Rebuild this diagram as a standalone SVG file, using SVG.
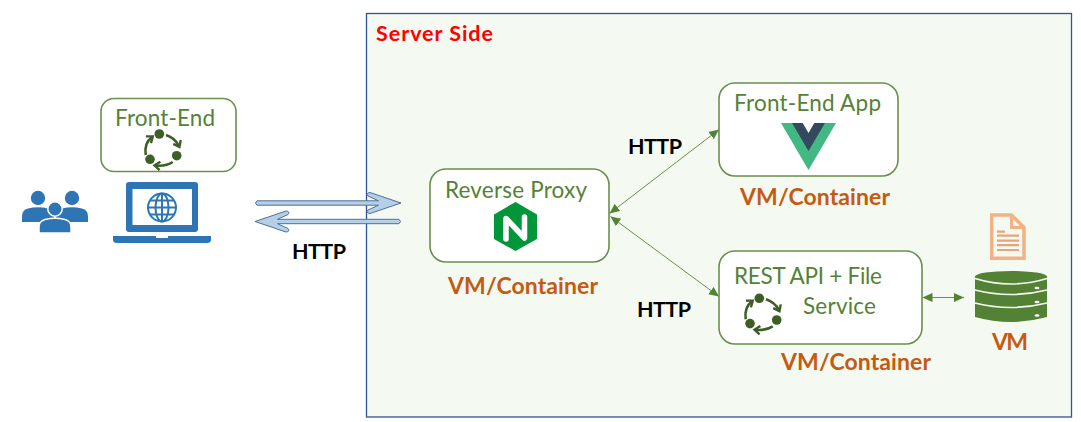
<svg xmlns="http://www.w3.org/2000/svg" xmlns:xlink="http://www.w3.org/1999/xlink" width="1081" height="422" viewBox="0 0 1081 422">
<style>
text{font-family:"Lato","Open Sans","Liberation Sans",sans-serif}
.box{fill:#fff;stroke:#6b8f4e;stroke-width:1.6}
.lbl{font-size:22.5px;fill:#548235}
.b{font-size:23px;font-weight:700;fill:#c55a11}
.h{font-size:21.5px;font-weight:700;fill:#000}
.link{stroke:#6b8f4e;stroke-width:1;fill:none;marker-start:url(#ah);marker-end:url(#ah)}
.blk{fill:#b6cfe8;stroke:#4f7199;stroke-width:1;stroke-linejoin:round}
.pb{fill:#2e75b6}
</style>
<defs>
<marker id="ah" viewBox="0 0 10 10" refX="10" refY="5" markerWidth="10" markerHeight="10" markerUnits="userSpaceOnUse" orient="auto-start-reverse"><path d="M0 0.5L10 5L0 9.5Z" fill="#548235"/></marker>
<marker id="cy" viewBox="0 0 10 10" refX="6.500" refY="5" markerWidth="10" markerHeight="10" markerUnits="userSpaceOnUse" orient="auto"><path d="M2 0.800L7.500 5L2 9.200" fill="none" stroke="#3d5f26" stroke-width="2.400"/></marker>
<g id="cycle">
<g fill="#3d5f26"><circle cx="-0.700" cy="-16" r="4.800"/><circle cx="16.700" cy="5.700" r="4.800"/><circle cx="-10" cy="9.300" r="4.800"/></g>
<g fill="none" stroke="#3d5f26" stroke-width="2.600" marker-end="url(#cy)">
<path d="M6 -15Q15 -12 19 -4"/>
<path d="M12.700 12Q6 16.500 -4.500 15.500"/>
<path d="M-14.300 5Q-16 -7 -8 -13"/>
</g></g>
<g id="person"><circle cx="0" cy="-11" r="7.200"/><path d="M-16 13V7Q-16 1 -10 -0.500Q0 -3 10 -0.500Q16 1 16 7V13Z"/></g>
</defs>
<rect width="1081" height="422" fill="#fff"/>
<g id="server-side"><rect x="366.500" y="13.500" width="705" height="403.500" fill="#f4f9f1" stroke="#2f5597" stroke-width="1.300"/>
<text x="376" y="41" font-size="21.500" font-weight="700" fill="#ff0000" textLength="117">Server Side</text></g>
<g id="connectors">
<path class="blk" d="M257 200.800H378.500L368 196Q365.500 193 370 192.500L401 203L370 213.500Q365.500 213 368 210L378.500 205.200H257Q254 203 257 200.800Z"/>
<path class="blk" d="M399 219.300H277.500L288 214.500Q290.500 211.500 286 211L255 221.500L286 232Q290.500 231.500 288 228.500L277.500 223.700H399Q402 221.500 399 219.300Z"/>
<line class="link" x1="609.500" y1="213.500" x2="719" y2="129.500"/>
<line class="link" x1="610.500" y1="216.500" x2="719" y2="296.500"/>
<line class="link" x1="922.500" y1="297.500" x2="964" y2="297.500"/>
</g>
<g id="users" class="pb"><use xlink:href="#person" x="38" y="209"/><use xlink:href="#person" x="72" y="209"/><g stroke="#fff" stroke-width="1.500"><use xlink:href="#person" x="55" y="220"/></g></g>
<g id="laptop"><rect x="126" y="182" width="72" height="50" rx="3" class="pb"/><rect x="132.500" y="189" width="59.500" height="36" fill="#fff"/>
<path class="pb" d="M113 236H156V238H168V236H211V240Q211 243 207 243H117Q113 243 113 240Z"/>
<g fill="none" stroke="#2e75b6" stroke-width="2"><circle cx="162" cy="207.500" r="14"/><ellipse cx="162" cy="207.500" rx="6.500" ry="14"/><path d="M162 193.500V221.500M148 207.500H176M150 200.500H174M150 214.500H174"/></g></g>
<g id="front-end"><rect class="box" x="101" y="98.500" width="135" height="73" rx="13"/>
<text class="lbl" x="115" y="126" textLength="100">Front-End</text><use xlink:href="#cycle" x="160" y="150"/></g>
<g id="reverse-proxy"><rect class="box" x="430" y="169" width="179" height="93" rx="16"/>
<text class="lbl" x="445" y="198" textLength="142">Reverse Proxy</text>
<path d="M515.500 202L537 214.500V239L515.500 251L494 239V214.500Z" fill="#009639"/>
<path d="M506 239V218.500L524.500 238V217" fill="none" stroke="#fff" stroke-width="5.500" stroke-linejoin="round" stroke-linecap="round"/>
<text class="b" x="448" y="294" textLength="150">VM/Container</text></g>
<g id="front-end-app"><rect class="box" x="719" y="83" width="179" height="93" rx="16"/>
<text class="lbl" x="734" y="111" textLength="147">Front-End App</text>
<path d="M781 123H836L808.500 170Z" fill="#42b883"/><path d="M792 123H825L808.500 151Z" fill="#35495e"/><path d="M802.700 123H814.300L808.500 133Z" fill="#fff"/>
<text class="b" x="740" y="204.500" textLength="150">VM/Container</text></g>
<g id="rest-api"><rect class="box" x="719" y="251" width="203" height="93" rx="16"/>
<text class="lbl" x="734" y="284" textLength="148">REST API + File</text>
<text class="lbl" x="803" y="314" textLength="73">Service</text><use xlink:href="#cycle" x="760" y="314.300"/>
<text class="b" x="781" y="370" textLength="150">VM/Container</text></g>
<g id="vm"><path d="M991.700 215H1011.500L1024 227.500V258.300H991.700Z" fill="#f4f9f1" stroke="#f4b183" stroke-width="3.500"/><path d="M1011.500 215V227.500H1024" fill="none" stroke="#f4b183" stroke-width="3"/>
<path d="M997 231.700H1005M997 235.700H1019M997 240.700H1019M997 245.200H1019M997 250H1019" stroke="#e3a579" stroke-width="2.200"/>
<path d="M975 276.500A36 5.500 0 0 1 1047 276.500V317Q1011 327 975 317Z" fill="#548235"/>
<path d="M975 278.500Q1011 289.500 1047 278.500M975 290Q1011 299 1047 290M975 303Q1011 312 1047 303" fill="none" stroke="#f4f9f1" stroke-width="1.600"/>
<g fill="#fff"><ellipse cx="1037" cy="288" rx="2.500" ry="1.300"/><ellipse cx="1037" cy="302" rx="2.500" ry="1.300"/><ellipse cx="1037" cy="315.500" rx="2.500" ry="1.300"/></g>
<text class="b" x="992" y="350" textLength="36">VM</text></g>
<g id="labels"><text class="h" x="292" y="259" textLength="54">HTTP</text><text class="h" x="628" y="154" textLength="54">HTTP</text><text class="h" x="637" y="317" textLength="54">HTTP</text></g>
</svg>
